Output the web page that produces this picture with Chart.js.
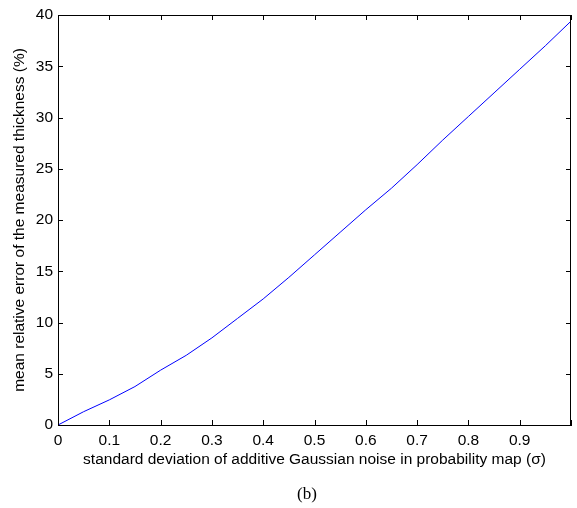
<!DOCTYPE html>
<html>
<head>
<meta charset="utf-8">
<script src="https://cdn.jsdelivr.net/npm/chart.js@4"></script>
<style>
  body { margin: 0; background: #fff; }
  canvas { display: block; }
</style>
</head>
<body>
<canvas id="grafico" width="577" height="508"></canvas>
<script>
// Datos
const sigma = [0, 0.05, 0.1, 0.15, 0.2, 0.25, 0.3, 0.35, 0.4, 0.45, 0.5,
               0.55, 0.6, 0.65, 0.7, 0.75, 0.8, 0.85, 0.9, 0.95, 1.0];
const errorMedio = [0, 1.3, 2.45, 3.75, 5.35, 6.8, 8.5, 10.4, 12.3, 14.4, 16.6,
                    18.8, 21.0, 23.1, 25.4, 27.8, 30.1, 32.4, 34.7, 37.0, 39.4];
const ticksX = [0, 0.1, 0.2, 0.3, 0.4, 0.5, 0.6, 0.7, 0.8, 0.9];
const ticksY = [0, 5, 10, 15, 20, 25, 30, 35, 40];

const fuente = "'Liberation Sans', Arial, sans-serif";
const tamano = 15.5;

// Marcas de los ejes hacia dentro y caja (estilo MATLAB)
const cajaMatlab = {
    id: 'cajaMatlab',
    afterDraw(chart) {
        const ctx = chart.ctx;
        const a = chart.chartArea;
        const x = chart.scales.x, y = chart.scales.y;
        ctx.save();
        ctx.strokeStyle = '#000';
        ctx.lineWidth = 1;
        ctx.beginPath();
        ctx.rect(a.left + 0.5, a.top + 0.5, a.right - a.left - 1, a.bottom - a.top);
        ctx.stroke();
        ctx.beginPath();
        ticksX.concat([1]).forEach(v => {
            const px = Math.round(x.getPixelForValue(v)) + 0.5;
            ctx.moveTo(px, a.bottom); ctx.lineTo(px, a.bottom - 5);
            ctx.moveTo(px, a.top); ctx.lineTo(px, a.top + 5);
        });
        ticksY.forEach(v => {
            const py = Math.round(y.getPixelForValue(v)) + 0.5;
            ctx.moveTo(a.left, py); ctx.lineTo(a.left + 5, py);
            ctx.moveTo(a.right, py); ctx.lineTo(a.right - 5, py);
        });
        ctx.stroke();
        // etiqueta de la subfigura
        ctx.fillStyle = '#000';
        ctx.font = "17px 'Liberation Serif', 'Times New Roman', serif";
        ctx.textAlign = 'center';
        ctx.textBaseline = 'middle';
        ctx.fillText('(b)', 307, 495);
        ctx.restore();
    }
};

new Chart(document.getElementById('grafico').getContext('2d'), {
    type: 'line',
    data: {
        datasets: [{
            data: sigma.map((s, i) => ({ x: s, y: errorMedio[i] })),
            borderColor: 'rgb(0, 0, 255)',
            borderWidth: 1,
            pointRadius: 0,
            tension: 0,
            fill: false
        }]
    },
    options: {
        responsive: false,
        animation: false,
        devicePixelRatio: 1,
        layout: { padding: { top: 15, left: 0, right: 0, bottom: 0 } },
        plugins: {
            legend: { display: false },
            tooltip: { enabled: false }
        },
        scales: {
            x: {
                type: 'linear',
                min: 0,
                max: 1,
                afterFit: scale => { scale.height = 83; },
                afterBuildTicks: scale => { scale.ticks = ticksX.concat([1]).map(v => ({ value: v })); },
                grid: { display: false, drawTicks: false },
                border: { display: true, color: '#000', width: 1 },
                ticks: {
                    autoSkip: false,
                    maxRotation: 0,
                    padding: 6,
                    color: '#000',
                    font: { family: fuente, size: tamano },
                    callback: v => (v >= 1 ? '' : String(Number(v.toFixed(1))))
                },
                title: {
                    display: true,
                    text: 'standard deviation of additive Gaussian noise in probability map (σ)',
                    color: '#000',
                    font: { family: fuente, size: tamano },
                    padding: { top: 0, bottom: 39 }
                }
            },
            y: {
                type: 'linear',
                min: 0,
                max: 40,
                afterFit: scale => { scale.width = 58; },
                afterBuildTicks: scale => { scale.ticks = ticksY.map(v => ({ value: v })); },
                grid: { display: false, drawTicks: false },
                border: { display: true, color: '#000', width: 1 },
                ticks: {
                    padding: 5,
                    color: '#000',
                    font: { family: fuente, size: tamano }
                },
                title: {
                    display: true,
                    text: 'mean relative error of the measured thickness (%)',
                    color: '#000',
                    font: { family: fuente, size: tamano },
                    padding: { top: 10, bottom: 0 }
                }
            }
        }
    },
    plugins: [cajaMatlab]
});
</script>
</body>
</html>
